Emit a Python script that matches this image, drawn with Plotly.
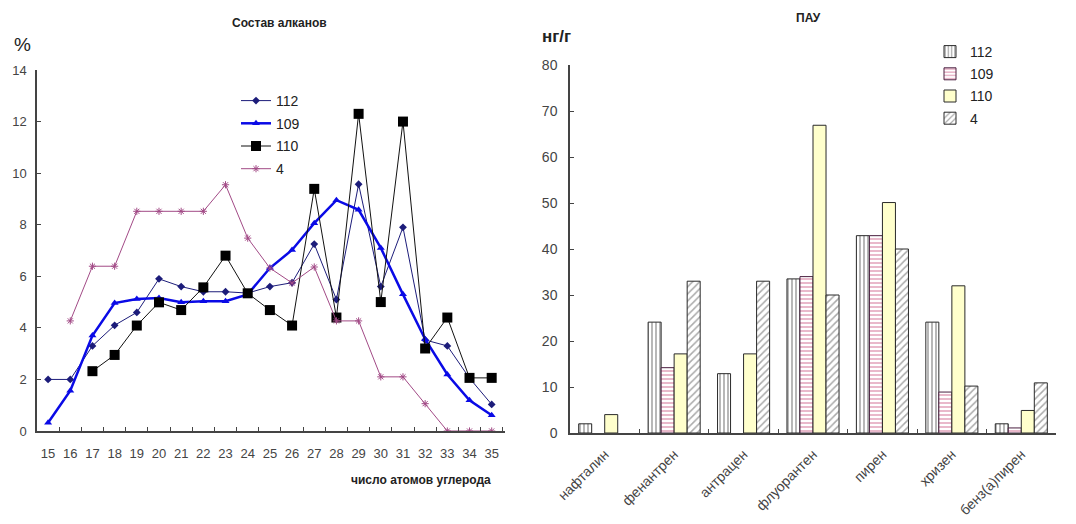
import plotly.graph_objects as go

W, H = 1076, 524
OFF = 8  # page body margin in the browser

# ---- Left chart data (alkanes composition, %)
carbon = [str(c) for c in range(15, 36)]
s112 = [2.0, 2.0, 3.3, 4.1, 4.6, 5.9, 5.6, 5.4, 5.4, 5.35, 5.6, 5.75, 7.25, 5.1, 9.57, 5.6, 7.9, 3.53, 3.3, 2.05, 1.03]
s109 = [0.32, 1.56, 3.7, 4.96, 5.12, 5.16, 4.99, 5.03, 5.03, 5.3, 6.32, 7.02, 8.06, 8.95, 8.58, 7.1, 5.3, 3.56, 2.19, 1.19, 0.61]
s110 = [None, None, 2.32, 2.95, 4.09, 4.99, 4.69, 5.57, 6.8, 5.34, 4.69, 4.09, 9.39, 4.4, 12.3, 5.0, 12.0, 3.2, 4.4, 2.06, 2.06]
s4 = [None, 4.27, 6.39, 6.39, 8.52, 8.52, 8.52, 8.52, 9.55, 7.48, 6.32, 5.74, 6.36, 4.27, 4.27, 2.1, 2.1, 1.06, 0, 0, 0]

# ---- Right chart data (PAH, ng/g)
pah = ["нафталин", "фенантрен", "антрацен", "флуорантен", "пирен", "хризен", "бенз(а)пирен"]
p112 = [2.0, 24.1, 12.9, 33.5, 42.9, 24.1, 2.0]
p109 = [None, 14.2, None, 34.0, 42.9, 8.9, 1.1]
p110 = [4.0, 17.2, 17.2, 66.9, 50.1, 32.0, 4.9]
p4 = [None, 33.0, 33.0, 30.0, 40.0, 10.2, 10.9]

FONT = "Liberation Sans"

def px(x):
    return (x - OFF) / W

def py(y):
    return 1 - (y - OFF) / H

fig = go.Figure()

fig.add_trace(go.Scatter(x=carbon, y=s112, name="112", mode="lines+markers",
                         line=dict(color="#1c1c7a", width=1),
                         marker=dict(symbol="diamond", size=6, color="#1c1c7a"),
                         xaxis="x", yaxis="y", legend="legend", legendgroup="a"))
fig.add_trace(go.Scatter(x=carbon, y=s109, name="109", mode="lines+markers",
                         line=dict(color="#0a0ae6", width=2.5),
                         marker=dict(symbol="triangle-up", size=7, color="#0a0ae6"),
                         xaxis="x", yaxis="y", legend="legend", legendgroup="b"))
fig.add_trace(go.Scatter(x=carbon, y=s110, name="110", mode="lines+markers",
                         line=dict(color="#111111", width=1),
                         marker=dict(symbol="square", size=10, color="#000000"),
                         xaxis="x", yaxis="y", legend="legend", legendgroup="c"))
fig.add_trace(go.Scatter(x=carbon, y=s4, name="4", mode="lines+markers",
                         line=dict(color="#a24a86", width=1),
                         marker=dict(symbol="asterisk-open", size=6, color="#a24a86",
                                     line=dict(color="#a24a86", width=1)),
                         xaxis="x", yaxis="y", legend="legend", legendgroup="d"))

edge = "#2a2a2a"
fig.add_trace(go.Bar(x=pah, y=p112, name="112", xaxis="x2", yaxis="y2", legend="legend2",
                     legendgroup="e",
                     marker=dict(color="white", line=dict(color=edge, width=1),
                                 pattern=dict(shape="|", fgcolor="#333333", bgcolor="white",
                                              size=4, solidity=0.35))))
fig.add_trace(go.Bar(x=pah, y=p109, name="109", xaxis="x2", yaxis="y2", legend="legend2",
                     legendgroup="f",
                     marker=dict(color="white", line=dict(color="#4a2040", width=1),
                                 pattern=dict(shape="-", fgcolor="#c8507e", bgcolor="white",
                                              size=4, solidity=0.4))))
fig.add_trace(go.Bar(x=pah, y=p110, name="110", xaxis="x2", yaxis="y2", legend="legend2",
                     legendgroup="g",
                     marker=dict(color="#ffffcc", line=dict(color=edge, width=1))))
fig.add_trace(go.Bar(x=pah, y=p4, name="4", xaxis="x2", yaxis="y2", legend="legend2",
                     legendgroup="h",
                     marker=dict(color="white", line=dict(color=edge, width=1),
                                 pattern=dict(shape="/", fgcolor="#555555", bgcolor="white",
                                              size=5, solidity=0.3))))

def axis_style(size, standoff):
    return dict(showline=True, linecolor="#444444", linewidth=1.5, showgrid=False,
                zeroline=False, ticks="inside", ticklen=4, tickcolor="#444444",
                automargin=False, ticklabelstandoff=standoff,
                tickfont=dict(family=FONT, size=size, color="#444444"))

def ann(text, x, y, size, xanchor="center"):
    return dict(text=text, x=px(x), y=py(y), xref="paper", yref="paper",
                xanchor=xanchor, yanchor="middle", showarrow=False,
                font=dict(family=FONT, size=size, color="#222222"))

fig.update_layout(
    width=W, height=H,
    margin=dict(l=0, r=0, t=0, b=0, autoexpand=False),
    paper_bgcolor="white", plot_bgcolor="white",
    font=dict(family=FONT, color="#222222"),
    barmode="group", bargap=0.25, bargroupgap=0,
    xaxis=dict(domain=[px(37), px(505)], type="category", tickson="boundaries",
               tickangle=0, range=[-0.5, 20.6], anchor="y", **axis_style(13, 10)),
    yaxis=dict(domain=[py(431), py(70)], range=[0, 14], dtick=2, anchor="x", **axis_style(13, 6)),
    xaxis2=dict(domain=[px(570), px(1056)], type="category", tickson="boundaries",
                tickangle=-45, anchor="y2", range=[-0.5, 6.5], **axis_style(14, 6)),
    yaxis2=dict(domain=[py(433), py(65)], range=[0, 80], dtick=10, anchor="x2", **axis_style(14, 8)),
    legend=dict(x=px(236), y=py(85), xanchor="left", yanchor="top",
                font=dict(family=FONT, size=14, color="#222222"),
                bgcolor="rgba(0,0,0,0)", itemwidth=30, tracegroupgap=1.5),
    legend2=dict(x=px(930), y=py(36), xanchor="left", yanchor="top",
                 font=dict(family=FONT, size=14, color="#222222"),
                 bgcolor="rgba(0,0,0,0)", itemwidth=30, tracegroupgap=1),
    showlegend=True,
    annotations=[
        ann("<b>Состав алканов</b>", 279, 23, 12),
        ann("%", 22, 45, 19),
        ann("<b>число атомов углерода</b>", 493, 480, 12, xanchor="right"),
        ann("<b>ПАУ</b>", 808, 18, 12),
        ann("<b>нг/г</b>", 556, 37, 17),
    ],
)

fig.write_html("out.html")
